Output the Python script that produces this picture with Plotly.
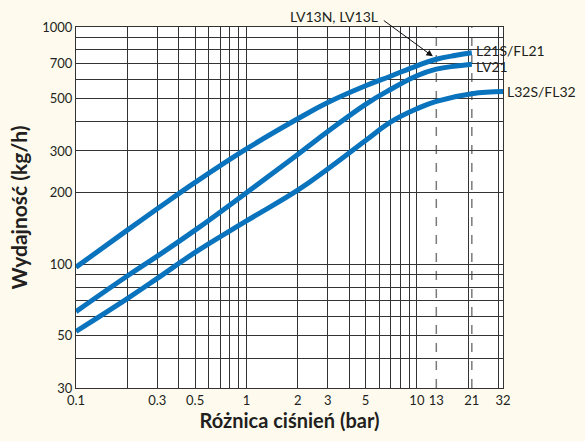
import numpy as np
import plotly.graph_objects as go

# ---- data ----
pressure = [0.1, 0.2, 0.3, 0.5, 1, 2, 3, 5, 7, 10, 13, 17, 21]
flow_l21s = [97, 139, 171, 221, 306, 410, 480, 565, 620, 686, 731, 760, 779]
flow_lv21 = [63, 89, 108, 139, 200, 290, 362, 472, 545, 623, 664, 685, 697]

pressure_l32 = [0.1, 0.2, 0.3, 0.5, 1, 2, 3, 5, 7, 10, 13, 21, 32]
flow_l32s = [52, 71.5, 87, 112, 152, 205, 252, 332, 397, 452, 486, 523, 534]

series_names = ["L21S/FL21", "LV21", "L32S/FL32"]
label_yshift = [2, -2, 0]

x_tick_vals = [0.1, 0.3, 0.5, 1, 2, 3, 5, 10, 13, 21, 32]
x_tick_text = ["0.1", "0.3", "0.5", "1", "2", "3", "5", "10", "13", "21", "32"]
x_grid_vals = [0.2, 0.3, 0.4, 0.5, 0.6, 0.7, 0.8, 0.9, 1, 2, 3, 4, 5, 6, 7, 8, 9, 10, 20, 30]
x_dashed_vals = [13, 21]

y_tick_vals = [30, 50, 100, 200, 300, 500, 700, 1000]
y_grid_vals = [40, 50, 60, 70, 80, 90, 100, 200, 300, 400, 500, 600, 700, 800, 900]

arrow_label = "LV13N, LV13L"
arrow_target = (12.4, 752)

# ---- styling ----
BLUE = "#0a73bd"
GRID = "#333333"
TXT = "#231f20"
BG = "#fefbee"
FONT = "Lato"

fig = go.Figure()
curves = [(pressure, flow_l21s, series_names[0]),
          (pressure, flow_lv21, series_names[1]),
          (pressure_l32, flow_l32s, series_names[2])]
for xs, ys, name in curves:
    fig.add_trace(go.Scatter(x=xs, y=ys, mode="lines", name=name,
                             line=dict(color=BLUE, width=5, shape="spline", smoothing=1.2),
                             showlegend=False, hoverinfo="skip"))

# curve end labels
for (xs, ys, name), ysh in zip(curves, label_yshift):
    fig.add_annotation(x=np.log10(xs[-1]), y=np.log10(ys[-1]), text=name,
                       xanchor="left", yanchor="middle", showarrow=False,
                       xshift=2, yshift=ysh,
                       font=dict(family=FONT, size=14, color=TXT))

# arrow label
fig.add_annotation(x=np.log10(arrow_target[0]), y=np.log10(arrow_target[1]),
                   text=" ", showarrow=True, ax=-52, ay=-38,
                   arrowhead=2, arrowsize=1.3, arrowwidth=1, arrowcolor="#111")
fig.add_annotation(x=np.log10(arrow_target[0]), y=np.log10(arrow_target[1]),
                   text=arrow_label, showarrow=False, xshift=-53, yshift=40,
                   xanchor="right", yanchor="middle",
                   font=dict(family=FONT, size=14, color=TXT))

# dashed reference lines
for xv in x_dashed_vals:
    fig.add_shape(type="line", x0=xv, x1=xv, y0=0, y1=1, xref="x", yref="paper",
                  line=dict(color="#7a7a7a", width=1.5, dash="dash"), layer="below")

fig.update_layout(
    width=585, height=441,
    margin=dict(l=76, r=82, t=27, b=48),
    paper_bgcolor=BG, plot_bgcolor="white",
    font=dict(family=FONT, color=TXT, size=13),
    xaxis=dict(type="log", range=[-1, np.log10(32)],
               tickmode="array", tickvals=x_tick_vals, ticktext=x_tick_text,
               showgrid=False, zeroline=False, ticks="",
               showline=True, linecolor=GRID, linewidth=1, mirror=True,
               tickfont=dict(size=13, color=TXT),
               minor=dict(tickmode="array", tickvals=x_grid_vals, showgrid=True,
                          gridcolor=GRID, gridwidth=1, ticks=""),
               title=dict(text="Różnica ciśnień (bar)", standoff=7,
                          font=dict(size=20, color=TXT, family=FONT, weight="bold"))),
    yaxis=dict(type="log", range=[np.log10(30), 3],
               tickmode="array", tickvals=y_tick_vals,
               ticktext=[str(v) for v in y_tick_vals],
               showgrid=False, zeroline=False, ticks="",
               showline=True, linecolor=GRID, linewidth=1, mirror=True,
               tickfont=dict(size=13, color=TXT),
               minor=dict(tickmode="array", tickvals=y_grid_vals, showgrid=True,
                          gridcolor=GRID, gridwidth=1, ticks=""),
               title=dict(text="Wydajność (kg/h)", standoff=8,
                          font=dict(size=21, color=TXT, family=FONT, weight="bold"))),
)

fig.write_html("out.html", config={"displayModeBar": False},
               post_script="document.body.style.margin='0';")
